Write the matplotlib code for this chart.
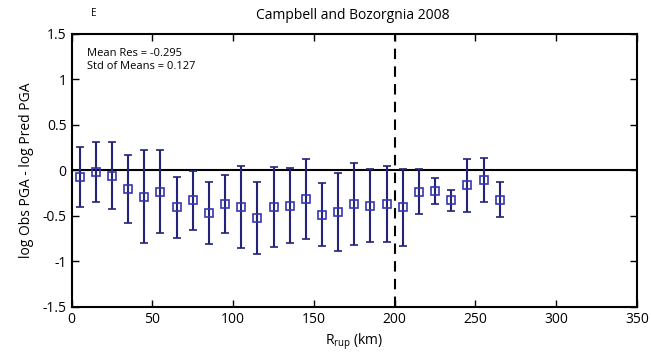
import matplotlib
matplotlib.use("Agg")
import matplotlib.pyplot as plt
import numpy as np

plt.rcParams['font.family'] = ['Open Sans', 'DejaVu Sans']

# Binned residuals versus rupture distance
distance = [5, 15, 25, 35, 45, 55, 65, 75, 85, 95, 105, 115, 125, 135,
            145, 155, 165, 175, 185, 195, 205, 215, 225, 235, 245, 255, 265]
mean_res = [-0.068, -0.015, -0.058, -0.203, -0.290, -0.232, -0.406, -0.329,
            -0.464, -0.367, -0.406, -0.522, -0.406, -0.387, -0.309, -0.484,
            -0.454, -0.367, -0.387, -0.367, -0.406, -0.232, -0.222, -0.329,
            -0.164, -0.106, -0.319]
std_res = [0.33, 0.33, 0.37, 0.37, 0.51, 0.46, 0.34, 0.32, 0.34, 0.32, 0.45,
           0.40, 0.44, 0.41, 0.44, 0.35, 0.43, 0.45, 0.40, 0.42, 0.42, 0.25,
           0.145, 0.12, 0.295, 0.24, 0.19]
cutoff = 200
x_ticks = [0, 50, 100, 150, 200, 250, 300, 350]
y_ticks = [-1.5, -1, -0.5, 0, 0.5, 1, 1.5]

fig = plt.figure(figsize=(6.51, 3.64), dpi=100)
ax = fig.add_axes([0.110, 0.1566, 0.8685, 0.75])

ax.axhline(0, color='black', lw=1.5, zorder=1)
ax.axvline(cutoff, color='black', lw=1.5, ls=(0, (5, 3.5)), zorder=1)

ax.errorbar(distance, mean_res, yerr=std_res, fmt='s', color='#23237a',
            ecolor='#23237a', elinewidth=1.5, capsize=3.2, capthick=1.5,
            markersize=5.2, markerfacecolor='none', markeredgecolor='#3535b5',
            markeredgewidth=1.2, zorder=3)

ax.set_xlim(0, 350)
ax.set_ylim(-1.5, 1.5)
ax.set_xticks(x_ticks)
ax.set_yticks(y_ticks)
ax.set_yticklabels(['-1.5', '-1', '-0.5', '0', '0.5', '1', '1.5'])
ax.tick_params(direction='in', top=True, right=True, labelsize=10,
               length=5, width=1)
for s in ax.spines.values():
    s.set_linewidth(1.5)

ax.set_xlabel(r'R$_{\mathregular{rup}}$ (km)', fontsize=10, labelpad=3)
ax.set_ylabel('log Obs PGA - log Pred PGA', fontsize=10, labelpad=6)
fig.text(0.542, 0.958, 'Campbell and Bozorgnia 2008', ha='center',
         va='center', fontsize=10)
fig.text(0.144, 0.962, 'E', ha='center', va='center', fontsize=7)
ax.text(0.028, 0.95, 'Mean Res = -0.295\nStd of Means = 0.127',
        transform=ax.transAxes, ha='left', va='top', fontsize=8,
        linespacing=1.3)

fig.savefig('out.png', dpi=100)
